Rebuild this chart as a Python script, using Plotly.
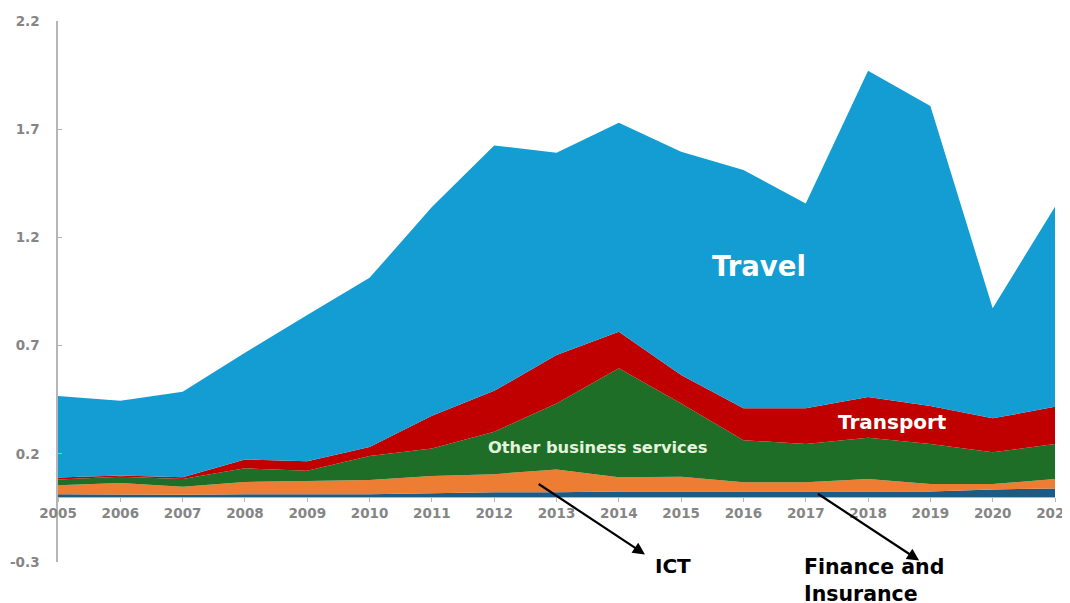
import plotly.graph_objects as go

years = list(range(2005, 2022))
finance = [0.013, 0.012, 0.011, 0.013, 0.013, 0.013, 0.018, 0.022, 0.022, 0.026, 0.026, 0.026, 0.026, 0.026, 0.026, 0.035, 0.040]
ict = [0.042, 0.053, 0.037, 0.057, 0.061, 0.066, 0.079, 0.084, 0.106, 0.066, 0.068, 0.043, 0.043, 0.057, 0.034, 0.025, 0.043]
other_business = [0.026, 0.029, 0.035, 0.063, 0.048, 0.111, 0.128, 0.196, 0.305, 0.503, 0.339, 0.194, 0.176, 0.191, 0.185, 0.147, 0.162]
transport = [0.010, 0.006, 0.009, 0.041, 0.044, 0.042, 0.151, 0.189, 0.223, 0.169, 0.131, 0.147, 0.165, 0.189, 0.176, 0.157, 0.172]
travel = [0.376, 0.345, 0.395, 0.493, 0.675, 0.781, 0.964, 1.134, 0.935, 0.966, 1.032, 1.101, 0.947, 1.507, 1.386, 0.509, 0.925]

y_ticks = [-0.3, 0.2, 0.7, 1.2, 1.7, 2.2]

series = [
    ("Finance and Insurance", finance, "#1d5b87"),
    ("ICT", ict, "#ee7d34"),
    ("Other business services", other_business, "#1f6e27"),
    ("Transport", transport, "#c00000"),
    ("Travel", travel, "#149dd3"),
]

fig = go.Figure()
for name, vals, col in series:
    fig.add_trace(go.Scatter(
        x=years, y=vals, name=name, mode="none",
        stackgroup="one", fillcolor=col, line=dict(width=0),
    ))

tick_font = dict(family="DejaVu Sans", size=13.5, color="#858585", weight="bold")

fig.update_layout(
    width=1062, height=595,
    margin=dict(l=50, r=15, t=13, b=41),
    paper_bgcolor="white", plot_bgcolor="white",
    showlegend=False,
    xaxis=dict(
        range=[2005, 2021], tickvals=years, ticktext=[str(y) for y in years],
        showgrid=False, zeroline=False, showline=True, linecolor="#b5b5b5", linewidth=1,
        ticks="outside", ticklen=4, tickcolor="#b5b5b5",
        anchor="free", position=0.3 / 2.5, tickfont=tick_font,
        ticklabeloverflow="allow", automargin=False,
    ),
    yaxis=dict(
        range=[-0.3, 2.2], tickvals=y_ticks, ticktext=[f"{v:.1f}" for v in y_ticks],
        showgrid=False, zeroline=False, showline=True, linecolor="#b5b5b5", linewidth=1.5,
        ticks="inside", ticklen=4, tickcolor="#b5b5b5",
        ticklabelstandoff=14, tickfont=tick_font, automargin=False,
    ),
)

fig.add_annotation(x=2016.25, y=1.069, text="Travel", showarrow=False,
                   font=dict(family="DejaVu Sans", size=27.5, color="white", weight="bold"))
fig.add_annotation(x=2018.39, y=0.345, text="Transport", showarrow=False,
                   font=dict(family="DejaVu Sans", size=20, color="white", weight="bold"))
fig.add_annotation(x=2013.67, y=0.231, text="Other business services", showarrow=False,
                   font=dict(family="DejaVu Sans", size=16.3, color="#e3f3dc", weight="bold"))
fig.add_annotation(x=2014.87, xref="x", y=-0.0074, yref="paper", yanchor="middle",
                   text="ICT", showarrow=False,
                   font=dict(family="DejaVu Sans", size=20, color="black", weight="bold"))
fig.add_annotation(x=2016.94, xref="x", y=-0.034, yref="paper", yanchor="middle",
                   text="Finance and<br>Insurance", showarrow=False,
                   xanchor="left", align="left",
                   font=dict(family="DejaVu Sans", size=20.5, color="black", weight="bold"))

# arrows
fig.add_annotation(x=2014.42, y=-0.265, ax=2012.69, ay=0.065, axref="x", ayref="y",
                   text="", showarrow=True, arrowhead=2, arrowsize=1.1, arrowwidth=2.2,
                   arrowcolor="black")
fig.add_annotation(x=2018.82, y=-0.293, ax=2017.17, ay=0.02, axref="x", ayref="y",
                   text="", showarrow=True, arrowhead=2, arrowsize=1.1, arrowwidth=2.2,
                   arrowcolor="black")

fig.write_html("out.html")
